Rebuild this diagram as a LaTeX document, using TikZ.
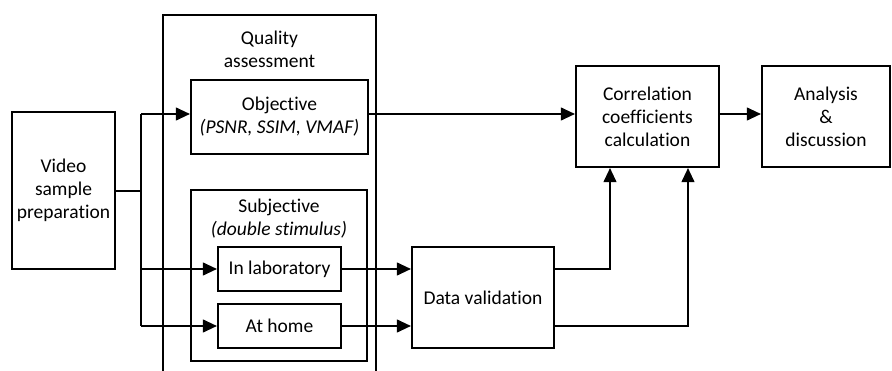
\documentclass[tikz,border=0pt]{standalone}
\usepackage{fontspec}
\setmainfont[Ligatures={NoCommon}]{Carlito}
\usetikzlibrary{arrows.meta,calc}
\begin{document}
\begin{tikzpicture}[x=1pt,y=-1pt,
  box/.style={draw,line width=2.2pt,rectangle,inner sep=0pt,align=center,
    font=\fontsize{19.5}{23}\selectfont},
  lbl/.style={inner sep=0pt,align=center,font=\fontsize{19.5}{23}\selectfont},
  conn/.style={line width=1.1pt},
  arr/.style={conn,-{Triangle[length=14pt,width=13pt]}}]
\clip (0,0) rectangle (892,371);
\fill[white] (0,0) rectangle (892,371);
% nodes
\node[box,minimum width=103pt,minimum height=157pt] (video) at (63.5,190.5) {Video\\sample\\preparation};
\node[box,minimum width=213pt,minimum height=400pt] (qa) at (269.5,215) {};
\node[lbl] (qalbl) at (269.5,49.5) {Quality\\assessment};
\node[box,minimum width=177pt,minimum height=74pt] (obj) at (279.5,117) {Objective\\\textit{(PSNR, SSIM, VMAF)}};
\node[box,minimum width=176pt,minimum height=171pt] (subj) at (279,275.5) {};
\node[lbl] (subjlbl) at (279,218.5) {Subjective\\\textit{(double stimulus)}};
\node[box,minimum width=123pt,minimum height=44pt] (lab) at (279.5,269) {In laboratory};
\node[box,minimum width=123pt,minimum height=44pt] (home) at (279.5,326) {At home};
\node[box,minimum width=142pt,minimum height=101pt] (dv) at (483,297.5) {Data validation};
\node[box,minimum width=143pt,minimum height=101pt] (corr) at (647.5,116.5) {Correlation\\coefficients\\calculation};
\node[box,minimum width=128pt,minimum height=101pt] (ana) at (826,116.5) {Analysis\\\&\\discussion};
% connectors
\coordinate (jv) at (141,191);
\coordinate (jt) at (141,114);
\coordinate (jl) at (141,269);
\coordinate (jh) at (141,326);
\draw[conn] (video.east |- jv) -- (jv);
\draw[conn] (jt) -- (jh);
\draw[arr] (jt) -- (obj.west |- jt);
\draw[arr] (jl) -- (lab.west |- jl);
\draw[arr] (jh) -- (home.west |- jh);
\draw[arr] (obj.east |- jt) -- (corr.west |- jt);
\draw[arr] (corr.east |- jt) -- (ana.west |- jt);
\draw[arr] (lab.east) -- (dv.west |- lab.east);
\draw[arr] (home.east) -- (dv.west |- home.east);
\coordinate (c1) at ($(corr.south)+(-37.5,0)$);
\coordinate (c2) at ($(corr.south)+(40.5,0)$);
\draw[arr] (dv.east |- lab.east) -| (c1);
\draw[arr] (dv.east |- home.east) -| (c2);
\end{tikzpicture}
\end{document}
